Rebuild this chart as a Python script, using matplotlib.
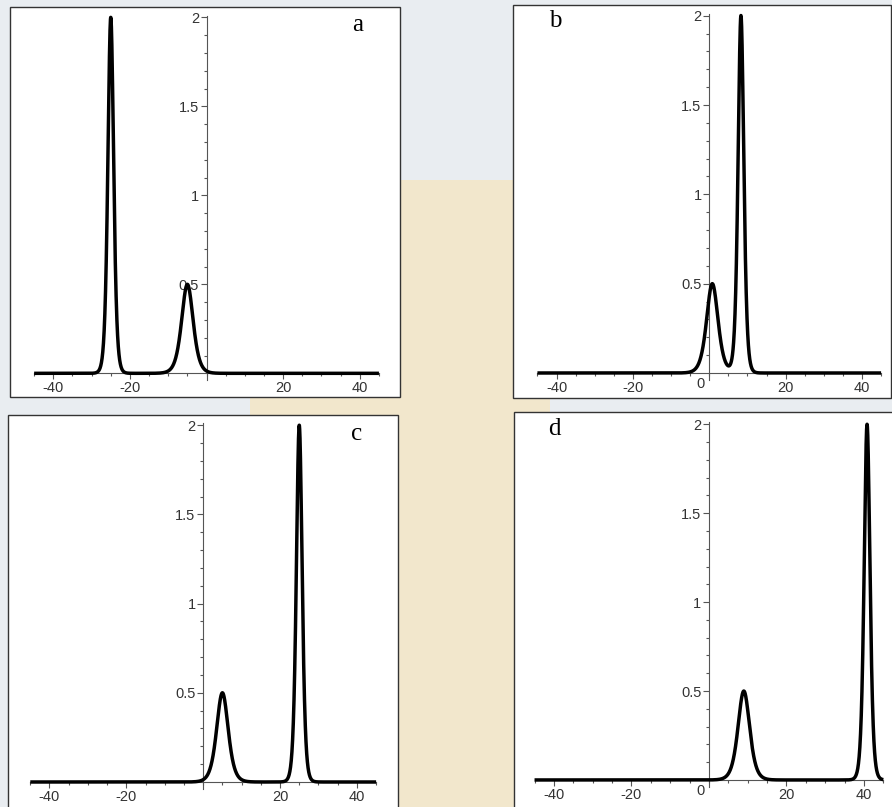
import numpy as np
import matplotlib
matplotlib.use('Agg')
import matplotlib.pyplot as plt
from matplotlib.patches import Rectangle

# peak data (centre, height, half-width) per panel
panels = ['a', 'b', 'c', 'd']
centres = {'a': [-25.0, -5.0], 'b': [8.3, 0.8], 'c': [25.0, 5.0], 'd': [40.8, 9.0]}
heights = [2.0, 0.5]
widths = [1.0, 2.0]
x_range = [-45, 45]
x_major = [-40, -20, 20, 40]
y_major = [0.5, 1, 1.5, 2]
show_zero = {'a': False, 'b': True, 'c': False, 'd': True}

W, H = 892, 807
# frame boxes in pixels (left, top, right, bottom) and data limits
boxes = {'a': (10, 7, 400, 397), 'b': (513, 5, 891, 398),
         'c': (8, 415, 398, 815), 'd': (514, 412, 900, 815)}
xlims = {'a': (-51.3, 50.5), 'b': (-51.4, 47.6), 'c': (-50.8, 50.7), 'd': (-50.3, 49.3)}
ylims = {'a': (-0.133, 2.058), 'b': (-0.14, 2.06), 'c': (-0.185, 2.057), 'd': (-0.197, 2.069)}
letter_pos = {'a': (39.5, 1.957), 'b': (-40.4, 1.968), 'c': (40.0, 1.95), 'd': (-40.0, 1.976)}

fig = plt.figure(figsize=(W / 100, H / 100), dpi=100)
fig.patch.set_facecolor('#e9edf1')
# rough stand-in for the beige watermark behind the panels
fig.add_artist(Rectangle((398 / W, 0), 116 / W, 1 - 180 / H, transform=fig.transFigure,
                         facecolor='#f2e7cc', edgecolor='none', zorder=0))
fig.add_artist(Rectangle((250 / W, 1 - 415 / H), 300 / W, 20 / H, transform=fig.transFigure,
                         facecolor='#f2e7cc', edgecolor='none', zorder=0))

tick_font = dict(family='Liberation Sans', size=10.5, color='#333333')

for p in panels:
    l, t, r, b = boxes[p]
    ax = fig.add_axes([l / W, 1 - b / H, (r - l) / W, (b - t) / H])
    ax.set_facecolor('white')
    ax.set_xlim(*xlims[p])
    ax.set_ylim(*ylims[p])

    xs = np.linspace(x_range[0], x_range[1], 3000)
    ys = np.zeros_like(xs)
    for c, h, w in zip(centres[p], heights, widths):
        ys += h / np.cosh((xs - c) / w) ** 2
    ax.plot(xs, ys, color='black', lw=2.5, solid_capstyle='butt', zorder=3)

    # axes through the origin, Maple style
    for side in ['top', 'right']:
        ax.spines[side].set_visible(False)
    ax.spines['left'].set_position(('data', 0))
    ax.spines['bottom'].set_position(('data', 0))
    ax.spines['left'].set_bounds(-0.04, 2.01)
    ax.spines['bottom'].set_bounds(x_range[0], x_range[1])
    for side in ['left', 'bottom']:
        ax.spines[side].set_color('#555555')
        ax.spines[side].set_linewidth(0.8)
        ax.spines[side].set_zorder(2)

    ax.set_xticks(x_major)
    ax.set_xticks(np.arange(-45, 46, 5), minor=True)
    ax.set_yticks(y_major)
    ax.set_yticks(np.arange(0.1, 2.0, 0.1), minor=True)
    ax.set_xticklabels([str(v) for v in x_major], **tick_font)
    ax.set_yticklabels(['0.5', '1', '1.5', '2'], **tick_font)
    ax.tick_params(which='major', direction='out', length=4, width=0.8, color='#555555', pad=1.5)
    ax.tick_params(which='minor', direction='out', length=2.5, width=0.8, color='#555555')
    if show_zero[p]:
        ax.text(-1.2, -0.02, '0', ha='right', va='top', **tick_font)

    ax.text(*letter_pos[p], p, ha='center', va='center', family='Liberation Serif',
            fontsize=18, color='black')

    # panel frame
    ax.add_patch(Rectangle((0, 0), 1, 1, transform=ax.transAxes, fill=False,
                           edgecolor='#333333', lw=1.0, clip_on=False, zorder=5))

fig.savefig('out.png', dpi=100, facecolor=fig.get_facecolor())
